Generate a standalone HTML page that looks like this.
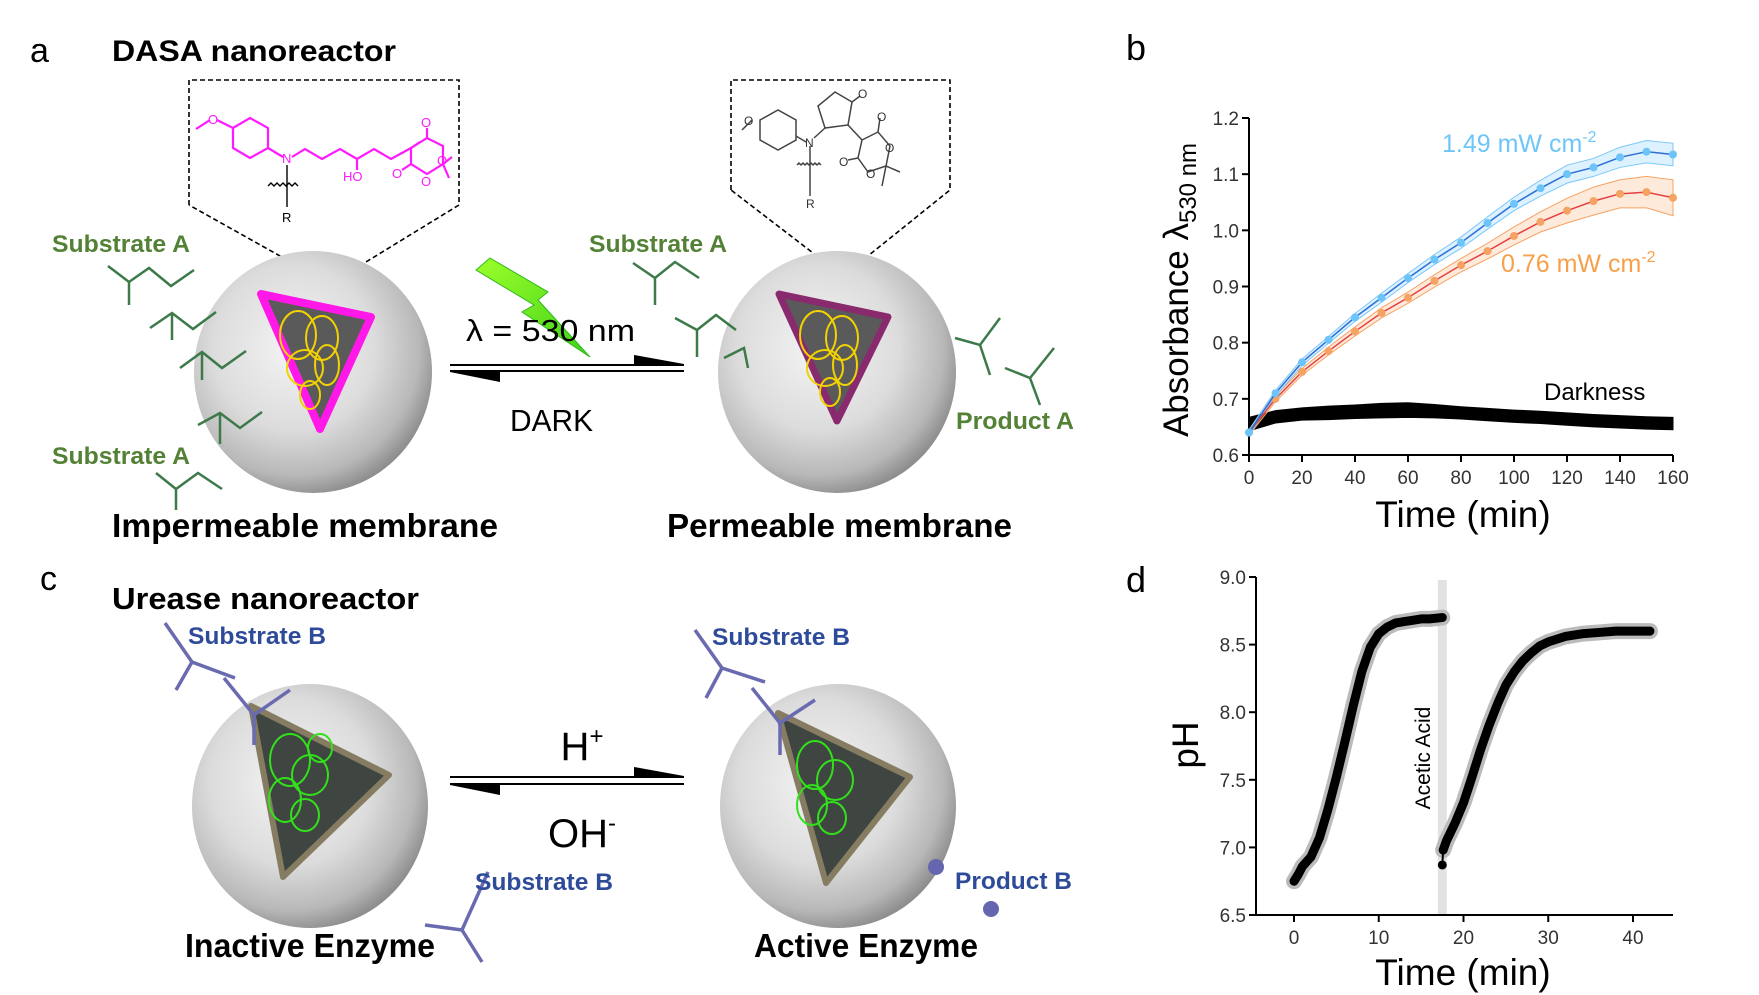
<!DOCTYPE html>
<html><head><meta charset="utf-8"><style>
html,body{margin:0;padding:0;background:#fff;}
svg{display:block;font-family:"Liberation Sans",sans-serif;}
</style></head><body>
<svg id="fig" width="1759" height="995" viewBox="0 0 1759 995" xmlns="http://www.w3.org/2000/svg">
<defs>
<radialGradient id="sph" cx="0.42" cy="0.4" r="0.62">
<stop offset="0" stop-color="#f4f4f4"/><stop offset="0.55" stop-color="#dcdcdc"/><stop offset="0.85" stop-color="#b8b8b8"/><stop offset="1" stop-color="#8e8e8e"/>
</radialGradient>
<linearGradient id="bolt" x1="0" y1="0" x2="1" y2="1"><stop offset="0" stop-color="#9cff2a"/><stop offset="1" stop-color="#3fd11a"/></linearGradient>
</defs>

<!-- Panel a -->
<g>
<text x="30" y="62" font-size="34">a</text>
<text x="112" y="61" font-size="30" font-weight="bold" textLength="284" lengthAdjust="spacingAndGlyphs">DASA nanoreactor</text>

<polyline points="189,205 189,80 459,80 459,205 330,284 189,205" fill="none" stroke="#000" stroke-width="1.6" stroke-dasharray="5,3"/>
<polyline points="731,190 731,80 950,80 950,190 843,276 731,190" fill="none" stroke="#000" stroke-width="1.6" stroke-dasharray="5,3"/>

<!-- magenta DASA molecule -->
<g stroke="#ff19ff" stroke-width="2.2" fill="none">
<line x1="196" y1="129" x2="210" y2="120"/>
<line x1="217" y1="120" x2="233" y2="128"/>
<polygon points="233,128 250,118 268,128 268,148 250,158 233,148"/>
<line x1="268" y1="148" x2="283" y2="157"/>
<polyline points="292,157 305,149 322,159 340,149 357,159 374,149 391,159 411,148 420,142"/>
<line x1="357" y1="159" x2="357" y2="170"/>
<polygon points="411,148 427,138 443,146 443,164 427,174 411,164" />
<line x1="427" y1="138" x2="427" y2="128"/>
<line x1="411" y1="164" x2="402" y2="170"/>
<line x1="443" y1="164" x2="452" y2="157"/>
<line x1="443" y1="164" x2="449" y2="178"/>
</g>
<g fill="#ff19ff" font-size="13">
<text x="208" y="124">O</text><text x="282" y="163">N</text><text x="343" y="181">HO</text><text x="421" y="127">O</text><text x="437" y="165">O</text><text x="421" y="186">O</text><text x="392" y="178">O</text>
</g>
<g stroke="#000" stroke-width="1.4" fill="none">
<line x1="287" y1="165" x2="287" y2="207"/>
<path d="M268,186 l3,-3 l3,3 l3,-3 l3,3 l3,-3 l3,3 l3,-3 l3,3 l3,-3 l3,3"/>
</g>
<text x="282" y="222" font-size="13">R</text>

<!-- gray closed molecule -->
<g stroke="#444" stroke-width="1.5" fill="none">
<line x1="742" y1="130" x2="752" y2="120"/>
<polygon points="760,120 778,110 796,120 796,140 778,150 760,140"/>
<line x1="796" y1="136" x2="806" y2="142"/>
<line x1="814" y1="138" x2="825" y2="128"/>
<polygon points="825,128 818,106 835,92 852,102 848,125"/>
<line x1="852" y1="102" x2="860" y2="96"/>
<line x1="848" y1="125" x2="862" y2="140"/>
<polygon points="862,140 878,132 890,146 886,166 868,172 858,158"/>
<line x1="878" y1="132" x2="880" y2="118"/>
<line x1="858" y1="158" x2="848" y2="160"/>
<line x1="886" y1="166" x2="900" y2="172"/>
<line x1="886" y1="166" x2="882" y2="186"/>
<line x1="810" y1="146" x2="810" y2="196"/>
<path d="M797,165 l2,-2 l2,2 l2,-2 l2,2 l2,-2 l2,2 l2,-2 l2,2 l2,-2 l2,2 l2,-2 l2,2"/>
</g>
<g fill="#333" font-size="12">
<text x="744" y="125">O</text><text x="805" y="147">N</text><text x="858" y="98">O</text><text x="877" y="121">O</text><text x="839" y="166">O</text><text x="885" y="152">O</text><text x="866" y="178">O</text><text x="806" y="208">R</text>
</g>

<!-- spheres top -->
<g>
<ellipse cx="313" cy="372" rx="119" ry="121" fill="url(#sph)"/>
<polygon points="261,294 371,317 320,429" fill="#5a5a5a" stroke="#ff18e8" stroke-width="8" stroke-linejoin="round"/>
<g stroke="#f2d200" stroke-width="2" fill="none">
<ellipse cx="298" cy="335" rx="18" ry="24"/><ellipse cx="322" cy="338" rx="16" ry="22"/><ellipse cx="305" cy="368" rx="18" ry="18"/><ellipse cx="327" cy="365" rx="12" ry="20"/><ellipse cx="310" cy="395" rx="10" ry="14"/>
</g>
</g>
<g>
<ellipse cx="837" cy="372" rx="119" ry="121" fill="url(#sph)"/>
<polygon points="779,294 888,317 837,421" fill="#5a5a5a" stroke="#8a2a6e" stroke-width="7" stroke-linejoin="round"/>
<g stroke="#f2d200" stroke-width="2" fill="none">
<ellipse cx="818" cy="335" rx="18" ry="24"/><ellipse cx="842" cy="338" rx="16" ry="22"/><ellipse cx="825" cy="368" rx="18" ry="18"/><ellipse cx="845" cy="365" rx="12" ry="20"/><ellipse cx="830" cy="392" rx="10" ry="14"/>
</g>
</g>

<!-- green substrates -->
<g stroke="#3d7a4a" stroke-width="2.5" fill="none">
<polyline points="108,266 129,282 149,268 171,286 194,270"/><line x1="129" y1="282" x2="129" y2="305"/>
<polyline points="150,328 172,313 193,329 216,312"/><line x1="172" y1="313" x2="172" y2="340"/>
<polyline points="180,368 202,352 222,368 246,351"/><line x1="202" y1="352" x2="202" y2="380"/>
<polyline points="198,425 220,413 240,428 262,412"/><line x1="220" y1="413" x2="220" y2="444"/>
<polyline points="156,473 176,489 198,473 222,489"/><line x1="176" y1="489" x2="176" y2="510"/>
<polyline points="633,263 655,278 675,262 699,278"/><line x1="655" y1="278" x2="655" y2="305"/>
<polyline points="675,318 697,330 716,315 736,330"/><line x1="697" y1="330" x2="697" y2="357"/>
<polyline points="724,358 744,348 748,368"/>
<polyline points="955,338 980,345 1000,318"/><line x1="980" y1="345" x2="990" y2="375"/>
<polyline points="1005,368 1030,378 1054,348"/><line x1="1030" y1="378" x2="1040" y2="405"/>
</g>
<g fill="#538135" font-size="24" font-weight="bold">
<text x="52" y="252" textLength="138" lengthAdjust="spacingAndGlyphs">Substrate A</text>
<text x="52" y="464" textLength="138" lengthAdjust="spacingAndGlyphs">Substrate A</text>
<text x="589" y="252" textLength="138" lengthAdjust="spacingAndGlyphs">Substrate A</text>
<text x="956" y="429" textLength="118" lengthAdjust="spacingAndGlyphs">Product A</text>
</g>

<!-- bolt and arrows -->
<polygon points="490,258 548,292 538,300 590,357 522,312 534,305 476,270" fill="url(#bolt)" stroke="#2fb81a" stroke-width="1"/>
<g>
<line x1="450" y1="365" x2="684" y2="365" stroke="#000" stroke-width="2"/>
<line x1="450" y1="371" x2="684" y2="371" stroke="#000" stroke-width="2"/>
<polygon points="634,355 684,364 634,364" fill="#000"/>
<polygon points="450,372 500,372 500,382" fill="#000"/>
</g>
<text x="466" y="341" font-size="31" textLength="169" lengthAdjust="spacingAndGlyphs">λ = 530 nm</text>
<text x="510" y="431" font-size="31" textLength="83" lengthAdjust="spacingAndGlyphs">DARK</text>

<text x="112" y="537" font-size="33" font-weight="bold" textLength="386" lengthAdjust="spacingAndGlyphs">Impermeable membrane</text>
<text x="667" y="537" font-size="33" font-weight="bold" textLength="345" lengthAdjust="spacingAndGlyphs">Permeable membrane</text>
</g>

<!-- Panel c -->
<g>
<text x="40" y="590" font-size="34">c</text>
<text x="112" y="609" font-size="31" font-weight="bold" textLength="307" lengthAdjust="spacingAndGlyphs">Urease nanoreactor</text>

<g>
<ellipse cx="310" cy="806" rx="118" ry="122" fill="url(#sph)"/>
<polygon points="251,706 389,775 283,877" fill="#3f4540" stroke="#857c62" stroke-width="6" stroke-linejoin="round"/>
<g stroke="#33e01c" stroke-width="2" fill="none">
<ellipse cx="290" cy="760" rx="20" ry="26"/><ellipse cx="310" cy="775" rx="18" ry="20"/><ellipse cx="285" cy="800" rx="16" ry="22"/><ellipse cx="305" cy="815" rx="14" ry="16"/><ellipse cx="320" cy="748" rx="12" ry="14"/>
</g>
</g>
<g>
<ellipse cx="838" cy="806" rx="118" ry="122" fill="url(#sph)"/>
<polygon points="778,713 910,777 826,883" fill="#3f4540" stroke="#857c62" stroke-width="6" stroke-linejoin="round"/>
<g stroke="#33e01c" stroke-width="2" fill="none">
<ellipse cx="815" cy="765" rx="18" ry="24"/><ellipse cx="835" cy="780" rx="18" ry="20"/><ellipse cx="812" cy="805" rx="15" ry="20"/><ellipse cx="832" cy="818" rx="14" ry="16"/>
</g>
</g>
<g stroke="#6a6ab0" stroke-width="3.5" fill="none">
<polyline points="165,623 192,662 235,678"/><line x1="192" y1="662" x2="176" y2="690"/>
<polyline points="224,678 254,715 290,690"/><line x1="254" y1="715" x2="254" y2="745"/>
<polyline points="425,925 462,930 488,872"/><line x1="462" y1="930" x2="482" y2="962"/>
<polyline points="695,630 722,668 765,682"/><line x1="722" y1="668" x2="706" y2="698"/>
<polyline points="752,688 780,723 815,700"/><line x1="780" y1="723" x2="780" y2="755"/>
</g>
<circle cx="936" cy="867" r="8" fill="#6666b0"/>
<circle cx="991" cy="909" r="8" fill="#6666b0"/>
<g fill="#2e4b9a" font-size="24" font-weight="bold">
<text x="188" y="644" textLength="138" lengthAdjust="spacingAndGlyphs">Substrate B</text>
<text x="712" y="645" textLength="138" lengthAdjust="spacingAndGlyphs">Substrate B</text>
<text x="475" y="890" textLength="138" lengthAdjust="spacingAndGlyphs">Substrate B</text>
<text x="955" y="889" textLength="117" lengthAdjust="spacingAndGlyphs">Product B</text>
</g>
<g>
<line x1="450" y1="777" x2="684" y2="777" stroke="#000" stroke-width="2"/>
<line x1="450" y1="784" x2="684" y2="784" stroke="#000" stroke-width="2"/>
<polygon points="634,767 684,776 634,776" fill="#000"/>
<polygon points="450,785 500,785 500,795" fill="#000"/>
</g>
<text x="582" y="760" font-size="40" text-anchor="middle">H<tspan font-size="24" dy="-16">+</tspan></text>
<text x="582" y="847" font-size="40" text-anchor="middle">OH<tspan font-size="24" dy="-16">-</tspan></text>
<text x="185" y="957" font-size="33" font-weight="bold" textLength="250" lengthAdjust="spacingAndGlyphs">Inactive Enzyme</text>
<text x="754" y="957" font-size="33" font-weight="bold" textLength="224" lengthAdjust="spacingAndGlyphs">Active Enzyme</text>
</g>

<!-- Panel b -->
<g id="chartB">
<text x="1126" y="60" font-size="36">b</text>
</g>
<!-- Panel d -->
<g id="chartD">
<text x="1126" y="592" font-size="36">d</text>
</g>
</svg>
<script>
// ---- Panel b data ----
const bTimes = [0,10,20,30,40,50,60,70,80,90,100,110,120,130,140,150,160];
const bBlue = [0.64,0.71,0.765,0.805,0.845,0.88,0.915,0.948,0.978,1.013,1.047,1.075,1.10,1.112,1.13,1.14,1.135];
const bBlueErr = [0.005,0.005,0.006,0.006,0.007,0.008,0.008,0.009,0.01,0.011,0.012,0.014,0.016,0.016,0.018,0.02,0.02];
const bOrange = [0.64,0.70,0.748,0.785,0.82,0.853,0.88,0.91,0.938,0.963,0.99,1.015,1.035,1.052,1.065,1.068,1.058];
const bOrangeErr = [0.005,0.005,0.006,0.007,0.008,0.009,0.01,0.011,0.012,0.014,0.016,0.018,0.022,0.025,0.025,0.028,0.032];
const bDark = [0.655,0.668,0.673,0.675,0.677,0.679,0.680,0.678,0.675,0.672,0.669,0.667,0.664,0.661,0.659,0.657,0.656];
const bDarkErr = [0.012,0.011,0.011,0.012,0.012,0.013,0.013,0.012,0.011,0.011,0.011,0.011,0.011,0.011,0.011,0.011,0.011];
const bYTicks = [0.6,0.7,0.8,0.9,1.0,1.1,1.2];
const bXTicks = [0,20,40,60,80,100,120,140,160];
// ---- Panel d data ----
const dTime1 = [0,0.5,1,2,3,4,5,6,7,8,9,10,11,12,13,14,15,16,17.5];
const dPH1 = [6.75,6.8,6.86,6.93,7.07,7.28,7.52,7.78,8.05,8.3,8.48,8.58,8.63,8.66,8.67,8.68,8.69,8.69,8.70];
const dTime2 = [17.5,17.6,18,19,20,21,22,23,24,25,26,27,28,29,30,32,34,36,38,40,42];
const dPH2 = [6.87,6.98,7.05,7.18,7.33,7.52,7.72,7.9,8.06,8.2,8.3,8.38,8.44,8.49,8.52,8.56,8.58,8.59,8.6,8.6,8.6];
const dYTicks = [6.5,7.0,7.5,8.0,8.5,9.0];
const dXTicks = [0,10,20,30,40];
const dAcidTime = [17.5];

const NS = "http://www.w3.org/2000/svg";
function mk(parent, tag, attrs, txt){ const e=document.createElementNS(NS,tag); for(const k in attrs) e.setAttribute(k,attrs[k]); if(txt!==undefined) e.textContent=txt; parent.appendChild(e); return e; }

// chart b
(function(){
const g=document.getElementById('chartB');
const X0=1249,X1=1673,Y0=455,Y1=118;
const xb=v=>X0+(v-0)/(160-0)*(X1-X0);
const yb=v=>Y0-(v-0.6)/(1.2-0.6)*(Y0-Y1);
const ax=mk(g,'path',{d:`M${X0},${Y1} V${Y0} H${X1}`,fill:'none',stroke:'#000','stroke-width':2});


bYTicks.forEach(t=>{
 const l=mk(g,'line',{x1:X0-7,x2:X0,y1:yb(t),y2:yb(t),stroke:'#000','stroke-width':2});
 
 
 const tx=mk(g,'text',{x:X0-10,y:yb(t)+7,'font-size':19,'text-anchor':'end',fill:'#333'},t.toFixed(1));
 
 
});
bXTicks.forEach(t=>{
 const l=mk(g,'line',{x1:xb(t),x2:xb(t),y1:Y0,y2:Y0+7,stroke:'#000','stroke-width':2});
 
 
 const tx=mk(g,'text',{x:xb(t),y:Y0+29,'font-size':19,'text-anchor':'middle',fill:'#333'},String(t));
 
 
});
function band(vals,errs,fill,stroke,name){
 const up=bTimes.map((t,i)=>`${xb(t)},${yb(vals[i]+errs[i])}`);
 const dn=bTimes.map((t,i)=>`${xb(t)},${yb(vals[i]-errs[i])}`).reverse();
 const p=mk(g,'polygon',{points:up.concat(dn).join(' '),fill:fill,stroke:stroke,'stroke-width':1});
 
 
}
band(bDark,bDarkErr,'#000','#000','darkness-band');
band(bOrange,bOrangeErr,'rgba(248,170,110,0.25)','#f5a262','orange-error-band');
band(bBlue,bBlueErr,'rgba(120,200,250,0.25)','#7cc8f8','blue-error-band');
function series(vals,line,dot,name){
 const pl=mk(g,'polyline',{points:bTimes.map((t,i)=>`${xb(t)},${yb(vals[i])}`).join(' '),fill:'none',stroke:line,'stroke-width':1.5});
 
 
 bTimes.forEach((t,i)=>{
  const c=mk(g,'circle',{cx:xb(t),cy:yb(vals[i]),r:4,fill:dot});
  
  
 });
}
series(bOrange,'#e84040','#f5a262','orange-series');
series(bBlue,'#2a6fd8','#6cc4f8','blue-series');
const yl=mk(g,'text',{x:0,y:0,'font-size':35,'text-anchor':'middle',transform:'translate(1188,290) rotate(-90)'});


yl.innerHTML='Absorbance λ<tspan font-size="24" dy="8">530 nm</tspan>';
const xl=mk(g,'text',{x:1463,y:527,'font-size':37,'text-anchor':'middle'},'Time (min)');


const l1=mk(g,'text',{x:1442,y:152,'font-size':25,fill:'#6ec6f8'});


l1.innerHTML='1.49 mW cm<tspan font-size="16" dy="-10">-2</tspan>';
const l2=mk(g,'text',{x:1501,y:272,'font-size':25,fill:'#f7a04a'});


l2.innerHTML='0.76 mW cm<tspan font-size="16" dy="-10">-2</tspan>';
const l3=mk(g,'text',{x:1544,y:400,'font-size':24},'Darkness');


})();

// chart d
(function(){
const g=document.getElementById('chartD');
const X0=1256,X1=1673,Y0=915,Y1=577;
const xd=v=>1294+v*(1633-1294)/40;
const yd=v=>Y0-(v-6.5)/(9.0-6.5)*(Y0-Y1);
dAcidTime.forEach(t=>{
 const r=mk(g,'rect',{x:xd(t)-4.5,y:580,width:9,height:Y0-580,fill:'#e2e2e2'});
 
 
});
const ax=mk(g,'path',{d:`M${X0},${Y1} V${Y0} H${X1}`,fill:'none',stroke:'#000','stroke-width':2});


dYTicks.forEach(t=>{
 const l=mk(g,'line',{x1:X0-7,x2:X0,y1:yd(t),y2:yd(t),stroke:'#000','stroke-width':2});
 
 
 const tx=mk(g,'text',{x:X0-10,y:yd(t)+7,'font-size':19,'text-anchor':'end',fill:'#333'},t.toFixed(1));
 
 
});
dXTicks.forEach(t=>{
 const l=mk(g,'line',{x1:xd(t),x2:xd(t),y1:Y0,y2:Y0+7,stroke:'#000','stroke-width':2});
 
 
 const tx=mk(g,'text',{x:xd(t),y:Y0+29,'font-size':19,'text-anchor':'middle',fill:'#333'},String(t));
 
 
});
function curve(ts,vs,name){
 const pts=ts.map((t,i)=>`${xd(t)},${yd(vs[i])}`).join(' ');
 const b=mk(g,'polyline',{points:pts,fill:'none',stroke:'#bbb','stroke-width':16,'stroke-linejoin':'round','stroke-linecap':'round'});
 
 
 const o=mk(g,'polyline',{points:pts,fill:'none',stroke:'#000','stroke-width':9,'stroke-linejoin':'round','stroke-linecap':'round'});
 
 
}
curve(dTime1,dPH1,'ph-curve-1');
curve(dTime2.slice(1),dPH2.slice(1),'ph-curve-2');
const s=mk(g,'line',{x1:xd(dTime2[0]),y1:yd(dPH2[0]),x2:xd(dTime2[1]),y2:yd(dPH2[1]),stroke:'#000','stroke-width':2});


const c=mk(g,'circle',{cx:xd(dTime2[0]),cy:yd(dPH2[0]),r:4.5,fill:'#000'});


const at=mk(g,'text',{x:0,y:0,'font-size':21,'text-anchor':'middle',transform:'translate(1430,758) rotate(-90)'},'Acetic Acid');


const yl=mk(g,'text',{x:0,y:0,'font-size':37,'text-anchor':'middle',transform:'translate(1198,745) rotate(-90)'},'pH');


const xl=mk(g,'text',{x:1463,y:985,'font-size':37,'text-anchor':'middle'},'Time (min)');


})();
</script>
</body></html>
